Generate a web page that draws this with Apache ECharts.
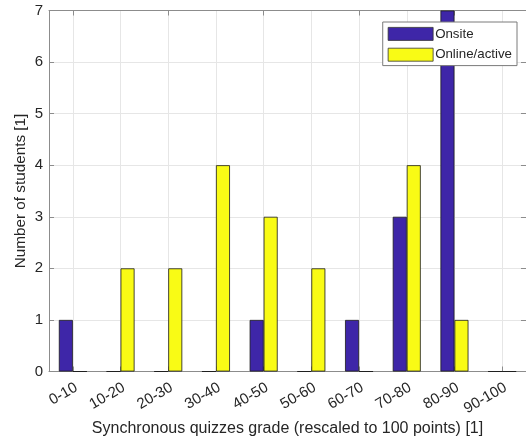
<!DOCTYPE html>
<html><head><meta charset="utf-8">
<script src="https://cdn.jsdelivr.net/npm/echarts@6/dist/echarts.min.js"></script>
<style>html,body{margin:0;padding:0;background:#fff}#c{width:526px;height:442px}</style>
</head><body><div id="c"></div>
<script>
const categories = ['0-10','10-20','20-30','30-40','40-50','50-60','60-70','70-80','80-90','90-100'];
const onsite = [1,0,0,0,1,0,1,3,7,0];
const onlineActive = [0,2,2,4,3,2,0,4,1,0];
const yTicks = [0,1,2,3,4,5,6,7];

const FONT = 'Liberation Sans, Arial, sans-serif';
const axisGray = '#8c8c8c';
const textCol = '#262626';
const gridCol = '#e6e6e6';

const chart = echarts.init(document.getElementById('c'));
chart.setOption({
  animation: false,
  textStyle: {fontFamily: FONT},
  grid: {left: 49, top: 10.5, width: 480, height: 361},
  legend: {
    orient: 'vertical', right: 9, top: 22,
    icon: 'rect',
    itemWidth: 45, itemHeight: 13, itemGap: 7,
    padding: [5, 5, 4, 5],
    itemStyle: {borderWidth: 0.8, borderColor: '#333'},
    backgroundColor: '#fff', borderColor: '#7a7a7a', borderWidth: 1, borderRadius: 0,
    textStyle: {fontFamily: FONT, fontSize: 13.3, color: textCol, padding: [0,0,0,-3]},
    data: ['Onsite', 'Online/active']
  },
  xAxis: [{
    type: 'category', data: categories, position: 'bottom',
    name: 'Synchronous quizzes grade (rescaled to 100 points) [1]',
    nameLocation: 'middle', nameGap: 49, nameMoveOverlap: false,
    nameTextStyle: {fontFamily: FONT, fontSize: 16, color: textCol},
    axisLine: {lineStyle: {color: axisGray, width: 1}},
    axisTick: {show: true, inside: true, length: 5, alignWithLabel: true, lineStyle: {color: axisGray}},
    axisLabel: {rotate: 30, fontSize: 15, color: textCol, margin: 17, interval: 0, fontFamily: FONT, padding: [0, -4, 0, 0]},
    splitLine: {show: false}
  }, {
    type: 'category', data: categories, position: 'top',
    axisLine: {show: true, onZero: false, lineStyle: {color: axisGray, width: 1}},
    axisTick: {show: true, inside: true, length: 5, alignWithLabel: true, lineStyle: {color: axisGray}},
    axisLabel: {show: false}, splitLine: {show: false}
  }, {
    type: 'value', min: 0.5, max: categories.length + 0.5, splitNumber: categories.length,
    position: 'bottom',
    axisLine: {show: false}, axisTick: {show: false}, axisLabel: {show: false},
    splitLine: {show: true, lineStyle: {color: gridCol, width: 1}}
  }],
  yAxis: [{
    type: 'value', min: yTicks[0], max: yTicks[yTicks.length-1], interval: 1,
    name: 'Number of students [1]', nameLocation: 'middle', nameGap: 21, nameMoveOverlap: false,
    nameTextStyle: {fontFamily: FONT, fontSize: 15.3, color: textCol},
    axisLine: {show: true, lineStyle: {color: axisGray, width: 1}},
    axisTick: {show: true, inside: true, length: 5, lineStyle: {color: axisGray}},
    axisLabel: {fontSize: 15, color: textCol, margin: 6, fontFamily: FONT},
    splitLine: {show: true, lineStyle: {color: gridCol, width: 1}}
  }, {
    type: 'value', min: yTicks[0], max: yTicks[yTicks.length-1], interval: 1, position: 'right',
    axisLine: {show: true, lineStyle: {color: axisGray}},
    axisTick: {show: true, inside: true, length: 5, lineStyle: {color: axisGray}},
    axisLabel: {show: false}, splitLine: {show: false}
  }],
  series: [{
    name: 'Onsite', type: 'bar', data: onsite, barWidth: 14, barGap: '0%',
    itemStyle: {color: '#3e26a8', borderColor: '#1a1a1a', borderWidth: 0.8}
  }, {
    name: 'Online/active', type: 'bar', data: onlineActive, barWidth: 14, barGap: '0%',
    itemStyle: {color: '#f9fb15', borderColor: '#1a1a1a', borderWidth: 0.8}
  }]
});
</script></body></html>
